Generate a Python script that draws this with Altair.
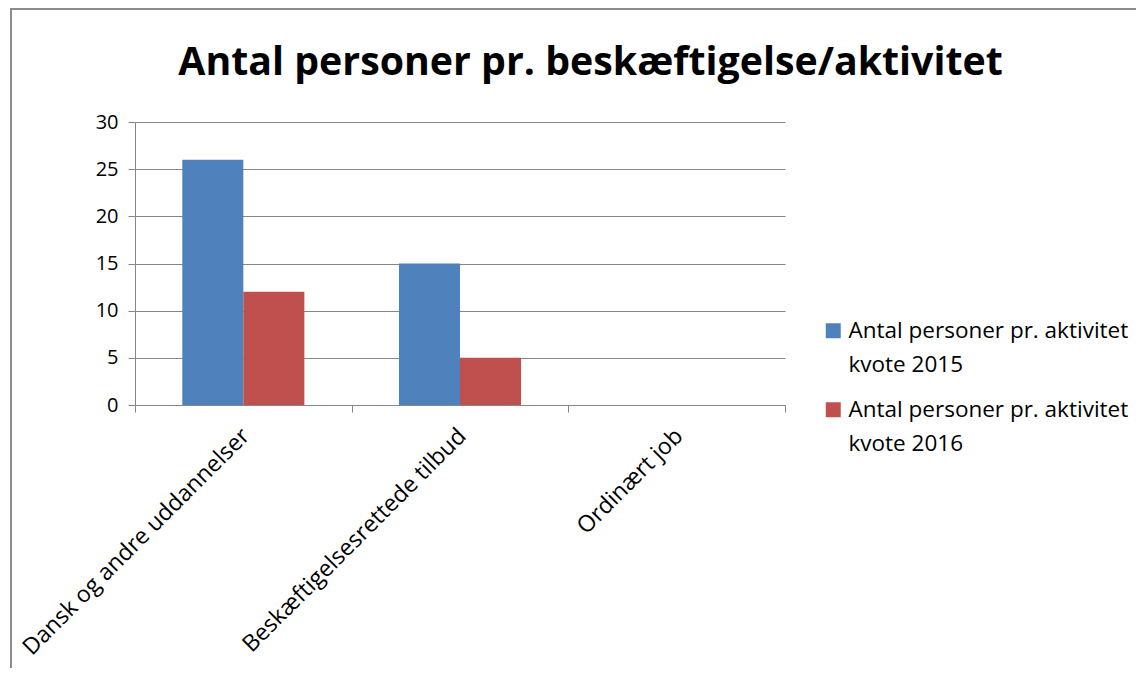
import altair as alt
import pandas as pd

categories = ["Dansk og andre uddannelser", "Beskæftigelsesrettede tilbud", "Ordinært job"]
series = ["Antal personer pr. aktivitet kvote 2015", "Antal personer pr. aktivitet kvote 2016"]
values_2015 = [26, 15, 0]
values_2016 = [12, 5, 0]
colors = ["#4F81BD", "#C0504D"]
y_ticks = [0, 5, 10, 15, 20, 25, 30]
title_text = "Antal personer pr. beskæftigelse/aktivitet"

rows = []
for c, v in zip(categories, values_2015):
    rows.append({"cat": c, "series": series[0], "value": v})
for c, v in zip(categories, values_2016):
    rows.append({"cat": c, "series": series[1], "value": v})
df = pd.DataFrame(rows)

FONT = "Open Sans"
GRID = "#868686"

bars = alt.Chart(df).mark_bar(stroke=None).encode(
    x=alt.X("cat:N", sort=categories, title=None,
            scale=alt.Scale(paddingInner=0, paddingOuter=0),
            axis=alt.Axis(labelAngle=-45, labelAlign="right", labelBaseline="middle",
                          labelFontSize=23, labelFont=FONT, labelColor="#000",
                          labelPadding=20, labelOffset=2, tickSize=7, tickColor=GRID,
                          domainColor=GRID, tickBand="extent", labelLimit=500,
                          grid=False)),
    xOffset=alt.XOffset("series:N", sort=series,
                        scale=alt.Scale(paddingOuter=0.775, paddingInner=0)),
    y=alt.Y("value:Q", title=None, scale=alt.Scale(domain=[0, 30], nice=False),
            axis=alt.Axis(values=y_ticks, labelFontSize=20, labelFont=FONT,
                          labelColor="#000", tickSize=7, tickColor=GRID,
                          domainColor=GRID, gridColor=GRID, labelPadding=10,
                          grid=True)),
    color=alt.Color("series:N", sort=series,
                    scale=alt.Scale(domain=series, range=colors),
                    legend=alt.Legend(title=None, orient="none", legendX=687, legendY=205,
                                      padding=0, symbolType="M-1,-2H1V0H-1Z", symbolSize=225,
                                      symbolStrokeWidth=0, labelFontSize=22.5, labelFont=FONT,
                                      labelColor="#000", labelBaseline="alphabetic",
                                      labelLimit=500, labelOffset=4, rowPadding=22,
                                      labelExpr="split(replace(datum.label, ' kvote', '|kvote'), '|')")),
)

frame = alt.Chart(pd.DataFrame({"f": [0]})).mark_rect(
    fill=None, stroke="#8c8c8c", strokeWidth=2
).encode(x=alt.value(-124), x2=alt.value(1100), y=alt.value(-113), y2=alt.value(600))

title = alt.Chart(pd.DataFrame({"title": [title_text]})).mark_text(
    font=FONT, fontSize=39.3, fontWeight="bold", color="#000",
    align="center", baseline="alphabetic"
).encode(text="title:N", x=alt.value(455.5), y=alt.value(-47))

chart = alt.layer(frame, title, bars).properties(
    width=650, height=283,
    autosize=alt.AutoSizeParams(type="none"),
    padding={"left": 127, "top": 114, "right": 351, "bottom": 263},
).configure(
    style={"guide-label": {"lineHeight": 34}}
).configure_view(stroke=None).configure_axis(
    gridWidth=1, domainWidth=1, tickWidth=1
)

chart.save("out.html", embed_options={"renderer": "svg", "actions": False})
